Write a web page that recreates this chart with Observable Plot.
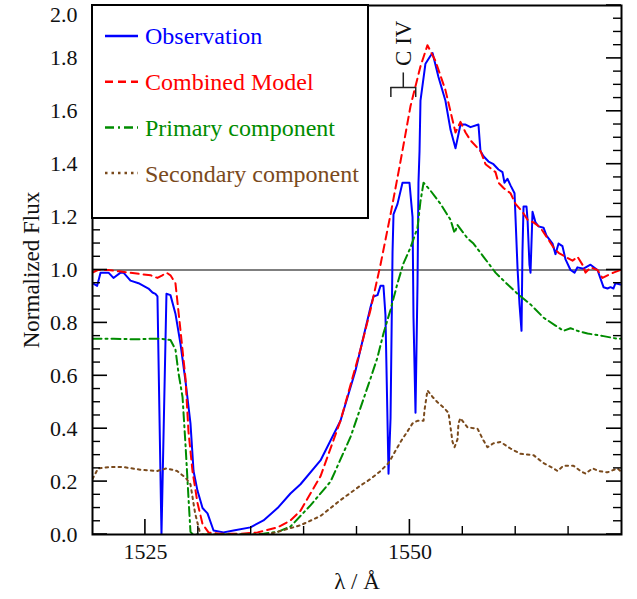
<!DOCTYPE html>
<html>
<head>
<meta charset="utf-8">
<script src="https://cdn.jsdelivr.net/npm/d3@7"></script>
<script src="https://cdn.jsdelivr.net/npm/@observablehq/plot@0.6"></script>
<style>
  body { margin: 0; background: #fff; }
  #chart { width: 637px; height: 599px; }
</style>
</head>
<body>
<div id="chart"></div>
<script>
// ---- Data ----
const obsWave = [1520.0,1520.44,1520.76,1521.51,1521.98,1522.65,1522.93,1523.59,1524.35,1524.82,1525.29,1525.67,1525.95,1526.14,1526.52,1526.99,1527.37,1527.84,1528.32,1528.79,1529.26,1529.55,1529.92,1530.40,1530.87,1531.44,1532.38,1533.33,1534.93,1536.16,1537.49,1538.71,1539.66,1541.55,1543.44,1544.86,1546.28,1546.56,1546.94,1547.22,1547.50,1547.69,1547.98,1548.17,1548.36,1548.45,1548.83,1549.30,1549.58,1549.96,1550.25,1550.34,1550.53,1550.72,1550.81,1550.91,1551.00,1551.47,1551.95,1552.14,1552.70,1553.36,1553.84,1554.31,1554.78,1555.26,1555.73,1556.48,1556.67,1556.96,1557.43,1557.90,1558.37,1558.75,1558.94,1559.22,1559.51,1559.89,1560.17,1560.36,1560.55,1560.64,1560.74,1561.02,1561.12,1561.30,1561.40,1561.59,1561.87,1562.16,1562.63,1562.91,1563.48,1563.76,1564.05,1564.42,1564.71,1565.18,1565.56,1565.84,1566.41,1567.07,1567.73,1568.30,1568.68,1568.96,1569.24,1569.43,1569.90];
const obsFlux = [0.95,0.94,0.99,0.99,0.97,0.99,0.99,0.96,0.95,0.94,0.93,0.915,0.91,0.90,0.0,0.91,0.905,0.835,0.72,0.58,0.42,0.24,0.166,0.10,0.08,0.015,0.008,0.015,0.027,0.053,0.10,0.155,0.19,0.28,0.43,0.62,0.86,0.90,0.905,0.94,0.94,0.83,0.23,0.44,1.07,1.21,1.25,1.33,1.33,1.33,1.20,0.82,0.46,0.95,1.33,1.45,1.64,1.78,1.81,1.82,1.73,1.64,1.53,1.46,1.55,1.55,1.54,1.55,1.45,1.43,1.41,1.40,1.38,1.37,1.33,1.345,1.32,1.29,1.01,0.87,0.77,1.07,1.24,1.24,1.19,1.02,0.99,1.22,1.18,1.165,1.16,1.13,1.10,1.06,1.10,1.09,1.04,1.00,0.99,1.01,1.005,1.02,1.00,0.935,0.93,0.935,0.93,0.95,0.945];

const modelWave = [1520.0,1520.5,1521.5,1522.5,1523.5,1524.5,1525.5,1526.14,1526.6,1526.99,1527.37,1527.84,1528.32,1528.79,1529.07,1529.45,1529.92,1530.40,1530.96,1532.0,1534.0,1535.6,1537.49,1538.71,1539.66,1541.55,1543.44,1545.33,1546.28,1547.22,1548.17,1549.11,1550.06,1551.00,1551.66,1552.42,1553.36,1554.31,1554.78,1555.26,1555.73,1556.67,1557.15,1558.09,1558.37,1558.85,1559.51,1559.98,1560.64,1561.12,1561.68,1562.34,1563.01,1563.57,1564.05,1564.71,1565.37,1565.84,1566.31,1566.60,1567.07,1567.73,1568.20,1568.68,1569.24,1569.90];
const modelFlux = [0.99,1.0,1.0,0.995,0.99,0.985,0.98,0.97,0.98,0.99,0.98,0.95,0.77,0.59,0.39,0.24,0.12,0.04,0.008,0.003,0.003,0.008,0.027,0.053,0.09,0.22,0.43,0.70,0.85,1.02,1.21,1.41,1.62,1.77,1.85,1.79,1.68,1.52,1.56,1.52,1.49,1.45,1.40,1.37,1.33,1.31,1.29,1.25,1.22,1.19,1.18,1.16,1.12,1.085,1.065,1.05,1.035,1.05,1.02,0.99,1.01,1.00,0.97,0.98,0.99,1.00];

const primWave = [1520.0,1522.0,1524.0,1525.5,1526.5,1527.37,1527.84,1528.13,1528.51,1528.79,1529.07,1529.26,1529.5,1535.0,1536.0,1537.5,1538.71,1540.6,1542.5,1544.4,1546.28,1546.94,1547.50,1548.17,1548.83,1549.39,1550.06,1550.72,1551.00,1551.29,1551.95,1552.89,1553.84,1554.22,1554.50,1555.44,1556.01,1556.96,1558.09,1558.85,1560.17,1561.40,1562.63,1563.76,1564.52,1565.18,1565.84,1566.79,1568.30,1569.61,1570.0];
const primFlux = [0.74,0.74,0.738,0.74,0.74,0.735,0.70,0.61,0.52,0.34,0.14,0.01,0.0,0.0,0.002,0.01,0.03,0.11,0.20,0.37,0.59,0.67,0.76,0.85,0.95,1.025,1.085,1.16,1.26,1.33,1.30,1.25,1.19,1.14,1.17,1.12,1.10,1.05,0.99,0.96,0.91,0.87,0.82,0.79,0.77,0.78,0.77,0.76,0.75,0.74,0.74];

const secWave = [1520.0,1520.53,1521.6,1522.9,1524.5,1526.1,1527.0,1528.0,1528.79,1529.26,1529.7,1530.2,1536.5,1537.5,1539.66,1541.55,1543.44,1545.33,1546.28,1547.22,1547.98,1548.83,1549.11,1549.77,1550.25,1550.72,1551.29,1551.38,1551.66,1552.14,1552.61,1553.18,1553.65,1553.84,1554.03,1554.22,1554.50,1554.59,1554.78,1555.44,1556.39,1556.96,1557.33,1557.90,1558.56,1559.51,1560.45,1561.68,1562.63,1563.57,1563.95,1564.52,1565.46,1566.12,1566.60,1567.26,1567.83,1568.68,1569.61,1569.90];
const secFlux = [0.21,0.25,0.255,0.255,0.245,0.24,0.25,0.24,0.215,0.19,0.08,0.0,0.0,0.01,0.035,0.07,0.13,0.185,0.21,0.24,0.27,0.33,0.35,0.39,0.42,0.43,0.43,0.47,0.545,0.52,0.50,0.48,0.46,0.405,0.35,0.33,0.36,0.42,0.44,0.405,0.40,0.355,0.33,0.345,0.35,0.325,0.305,0.30,0.27,0.25,0.24,0.26,0.26,0.24,0.23,0.25,0.24,0.235,0.25,0.24];

const xTickLabels = [1525, 1550];
const xMinorTicks = [1530, 1535, 1540, 1545, 1555, 1560, 1565];
const yTickLabels = [0, 0.2, 0.4, 0.6, 0.8, 1.0, 1.2, 1.4, 1.6, 1.8, 2.0];
const yMinorTicks = d3.range(0, 2.0001, 0.05).map(v => +v.toFixed(2)).filter(v => Math.abs(v * 5 - Math.round(v * 5)) > 1e-6);

const civLines = [1548.2, 1550.55];
const civLabel = "C IV";

const legendLabels = ["Observation", "Combined Model", "Primary component", "Secondary component"];
const legendColors = ["#0000ff", "#ff0000", "#008c00", "#7a4a1c"];
const legendDash = [null, "8,5", "9,4,2,4", "2.5,4"];

// ---- Build ----
const toRows = (w, f) => w.map((x, i) => ({w: x, f: f[i]}));
const series = [toRows(obsWave, obsFlux), toRows(modelWave, modelFlux), toRows(primWave, primFlux), toRows(secWave, secFlux)];

const W = 637, H = 599, mL = 92, mR = 16, mT = 5, mB = 65;
const xDom = [1520, 1570], yDom = [0, 2];
const font = "'Liberation Serif', 'Times New Roman', serif";
const civMid = d3.mean(civLines);

const plot = Plot.plot({
  width: W, height: H,
  marginLeft: mL, marginRight: mR, marginTop: mT, marginBottom: mB,
  style: {fontFamily: font, fontSize: "22px", color: "#111", background: "#fff"},
  x: {domain: xDom, label: null},
  y: {domain: yDom, label: null},
  marks: [
    Plot.ruleY([1], {stroke: "#000", strokeWidth: 1.2}),
    ...series.map((s, i) => Plot.line(s, {
      x: "w", y: "f", stroke: legendColors[i], strokeWidth: 2,
      strokeDasharray: legendDash[i], clip: true
    })),
    // tick labels
    Plot.axisX({ticks: xTickLabels, tickSize: 0, tickPadding: 9, tickFormat: d => String(d), fontSize: 22, fontFamily: font, fill: "#111", label: null}),
    Plot.axisY({ticks: yTickLabels.slice(0, -1), tickSize: 0, tickPadding: 15, tickFormat: d3.format(".1f"), fontSize: 22, fontFamily: font, fill: "#111", label: null}),
    Plot.axisY({ticks: yTickLabels.slice(-1), tickSize: 0, tickPadding: 15, tickFormat: d3.format(".1f"), fontSize: 22, fontFamily: font, fill: "#111", dy: 9, label: null}),
    // axis titles
    Plot.text(["Normalized Flux"], {frameAnchor: "left", dx: -61, rotate: -90, textAnchor: "middle", lineAnchor: "middle", fontSize: 23, fontFamily: font, fill: "#111"}),
    Plot.text(["λ / Å"], {frameAnchor: "bottom", dy: 47, textAnchor: "middle", lineAnchor: "middle", fontSize: 23, fontFamily: font, fill: "#111"}),
    // C IV marker
    Plot.ruleX(civLines, {x: d => d, y1: 1.69, y2: 1.652, stroke: "#222", strokeWidth: 1.5}),
    Plot.ruleY([1.69], {x1: civLines[0], x2: civLines[1], stroke: "#222", strokeWidth: 1.5}),
    Plot.ruleX([civMid], {y1: 1.69, y2: 1.745, stroke: "#222", strokeWidth: 1.5}),
    Plot.text([civLabel], {x: civMid, y: 1.745, dy: -7, rotate: -90, textAnchor: "start", lineAnchor: "middle", fontSize: 23, fontFamily: font, fill: "#111"}),
    Plot.frame({stroke: "#000", strokeWidth: 2})
  ]
});

const svg = d3.select(plot);
const xs = plot.scale("x"), ys = plot.scale("y");
const X0 = xs.apply(xDom[0]), X1 = xs.apply(xDom[1]), Y0 = ys.apply(yDom[0]);

// inward ticks on left, right and bottom, placed with Plot's own scales
const tg = svg.append("g").attr("stroke", "#000");
const addY = (vals, len, sw) => vals.forEach(v => {
  const y = ys.apply(v);
  tg.append("line").attr("x1", X0).attr("x2", X0 + len).attr("y1", y).attr("y2", y).attr("stroke-width", sw);
  tg.append("line").attr("x1", X1 - len).attr("x2", X1).attr("y1", y).attr("y2", y).attr("stroke-width", sw);
});
const addX = (vals, len, sw) => vals.forEach(v => {
  const x = xs.apply(v);
  tg.append("line").attr("x1", x).attr("x2", x).attr("y1", Y0).attr("y2", Y0 - len).attr("stroke-width", sw);
});
addY(yTickLabels, 15, 1.6);
addY(yMinorTicks, 8, 1.4);
addX(xTickLabels, 15, 1.6);
addX(xMinorTicks, 8, 1.4);

// legend box
const lg = svg.append("g").attr("font-family", font).attr("font-size", 24).attr("text-anchor", "start");
lg.append("rect").attr("x", mL).attr("y", mT).attr("width", 276).attr("height", 213)
  .attr("fill", "#fff").attr("stroke", "#000").attr("stroke-width", 2);
legendLabels.forEach((lab, i) => {
  const cy = 36 + i * 45.7;
  lg.append("line").attr("x1", 105).attr("x2", 138).attr("y1", cy).attr("y2", cy)
    .attr("stroke", legendColors[i]).attr("stroke-width", 2.5)
    .attr("stroke-dasharray", legendDash[i]);
  lg.append("text").attr("x", 145).attr("y", cy).attr("dy", "0.35em")
    .attr("text-anchor", "start")
    .attr("fill", legendColors[i]).text(lab);
});

document.getElementById("chart").appendChild(plot);
</script>
</body>
</html>
